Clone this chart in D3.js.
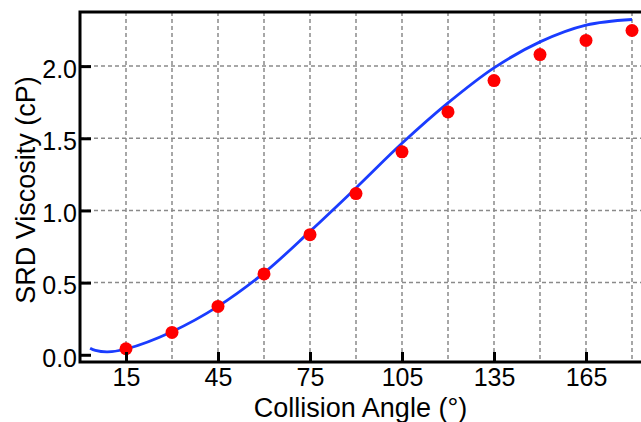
<!DOCTYPE html>
<head>
  <meta charset="utf-8">
  <script src="https://cdn.jsdelivr.net/npm/d3@7"></script>
  <style>
    body { margin: 0; background: #fff; }
    text { font-family: "Liberation Sans", Arial, sans-serif; fill: #000; }
  </style>
</head>
<body>
  <svg width="641" height="422"></svg>
  <script>

  // measured points
  var angles = [15, 30, 45, 60, 75, 90, 105, 120, 135, 150, 165, 180];
  var viscosity = [0.042, 0.155, 0.335, 0.56, 0.832, 1.117, 1.406, 1.683, 1.90, 2.08, 2.178, 2.247];

  // fitted curve
  var fitAngles = [3.3, 5, 9, 15, 30, 45, 60, 75, 90, 105, 120, 135, 150, 165, 180];
  var fitValues = [0.045, 0.03, 0.02, 0.04, 0.16, 0.335, 0.567, 0.855, 1.156, 1.465, 1.745, 1.988, 2.168, 2.284, 2.323];

  var xTicks = [15, 45, 75, 105, 135, 165];
  var xGrid = [15, 30, 45, 60, 75, 90, 105, 120, 135, 150, 165, 180];
  var yTicks = [0, 0.5, 1.0, 1.5, 2.0];
  var yGrid = [0.5, 1.0, 1.5, 2.0];

  var svg = d3.select("svg");

  var x = d3.scaleLinear()
      .domain([0, 185])
      .range([80, 80 + 185 * 92 / 30]);

  var y = d3.scaleLinear()
      .domain([-0.05, 2.375])
      .range([362, 12]);

  var plotLeft = 80, plotTop = 12, plotBottom = 362, plotRight = 660;

  // grid
  svg.append("g")
    .selectAll("line")
    .data(xGrid)
    .enter().append("line")
      .attr("x1", function(d) { return x(d); })
      .attr("x2", function(d) { return x(d); })
      .attr("y1", plotTop)
      .attr("y2", plotBottom)
      .attr("stroke", "#8a8a8a")
      .attr("stroke-width", 1.5)
      .attr("stroke-dasharray", "4,3");

  svg.append("g")
    .selectAll("line")
    .data(yGrid)
    .enter().append("line")
      .attr("x1", plotLeft)
      .attr("x2", plotRight)
      .attr("y1", function(d) { return y(d); })
      .attr("y2", function(d) { return y(d); })
      .attr("stroke", "#8a8a8a")
      .attr("stroke-width", 1.5)
      .attr("stroke-dasharray", "4,3");

  // fit line
  var line = d3.line()
      .x(function(d) { return x(d[0]); })
      .y(function(d) { return y(d[1]); })
      .curve(d3.curveCatmullRom);

  svg.append("path")
      .datum(d3.zip(fitAngles, fitValues))
      .attr("d", line)
      .attr("fill", "none")
      .attr("stroke", "#1a3cff")
      .attr("stroke-width", 2.8);

  // points
  svg.append("g")
    .selectAll("circle")
    .data(d3.zip(angles, viscosity))
    .enter().append("circle")
      .attr("cx", function(d) { return x(d[0]); })
      .attr("cy", function(d) { return y(d[1]); })
      .attr("r", 6.5)
      .attr("fill", "#ff0000");

  // axes
  var xAxis = svg.append("g")
      .attr("transform", "translate(0," + plotBottom + ")")
      .call(d3.axisBottom(x)
        .tickValues(xTicks)
        .tickSizeInner(-10)
        .tickSizeOuter(0)
        .tickPadding(6));
  xAxis.select(".domain").remove();
  xAxis.selectAll(".tick line").attr("stroke", "#000").attr("stroke-width", 3);
  xAxis.selectAll("text").attr("font-size", 25).attr("font-family", null);

  var yAxis = svg.append("g")
      .attr("transform", "translate(" + plotLeft + ",0)")
      .call(d3.axisLeft(y)
        .tickValues(yTicks)
        .tickFormat(d3.format(".1f"))
        .tickSizeInner(-11)
        .tickSizeOuter(0)
        .tickPadding(3));
  yAxis.select(".domain").remove();
  yAxis.selectAll(".tick line").attr("stroke", "#000").attr("stroke-width", 3);
  yAxis.selectAll("text")
      .attr("font-size", 25)
      .attr("font-family", null)
      .attr("dy", "0.45em");

  // frame
  svg.append("path")
      .attr("d", "M" + plotRight + "," + plotTop + "H" + plotLeft + "V" + plotBottom + "H" + plotRight)
      .attr("fill", "none")
      .attr("stroke", "#000")
      .attr("stroke-width", 3);

  svg.append("text")
      .attr("x", (253 + 468) / 2)
      .attr("y", 417)
      .attr("text-anchor", "middle")
      .attr("font-size", 27)
      .text("Collision Angle (\u00b0)");

  svg.append("text")
      .attr("transform", "translate(35," + (75 + 305) / 2 + ") rotate(-90)")
      .attr("text-anchor", "middle")
      .attr("font-size", 27)
      .text("SRD Viscosity (cP)");

  </script>
</body>
